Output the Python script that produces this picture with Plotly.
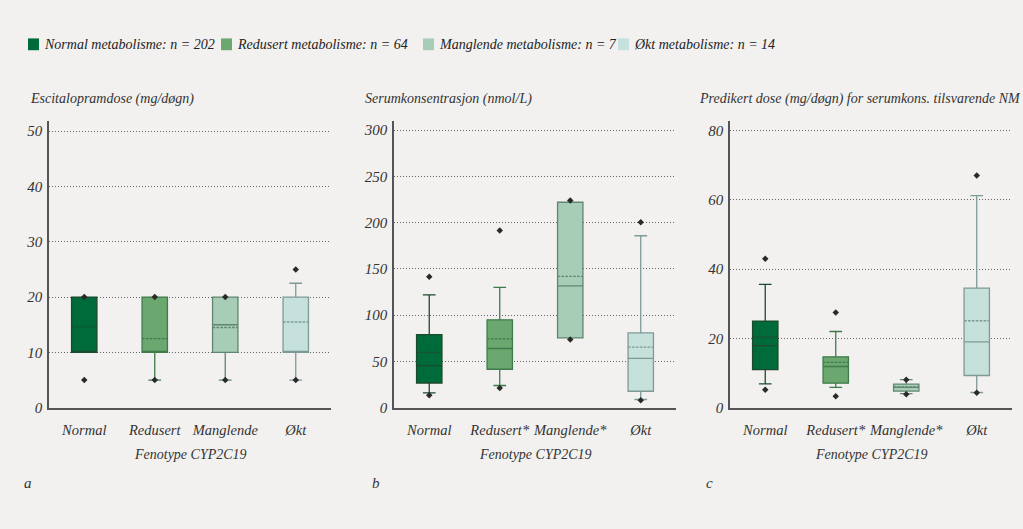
import plotly.graph_objects as go

categories_a = ["Normal", "Redusert", "Manglende", "Økt"]
categories_bc = ["Normal", "Redusert*", "Manglende*", "Økt"]
legend_labels = ["Normal metabolisme: n = 202", "Redusert metabolisme: n = 64",
                 "Manglende metabolisme: n = 7", "Økt metabolisme: n = 14"]

# Panel a: Escitalopramdose (mg/døgn)
a_q1 = [10, 10, 10, 10]
a_med = [10, 10, 15, 10]
a_q3 = [20, 20, 20, 20]
a_mean = [14.6, 12.5, 14.5, 15.5]
a_low = [10, 5, 5, 5]
a_high = [20, 20, 20, 22.5]
a_min = [5, 5, 5, 5]
a_max = [20, 20, 20, 25]

# Panel b: Serumkonsentrasjon (nmol/L)
b_q1 = [26.7, 41.6, 75.4, 17.8]
b_med = [45.5, 64, 131.7, 53.4]
b_q3 = [79, 95, 222, 80.8]
b_mean = [59.8, 74.4, 142, 65.5]
b_low = [16, 24, 75.4, 8.9]
b_high = [122, 130, 222, 185.8]
b_min = [13.5, 21.4, 73.7, 8.2]
b_max = [141.6, 191.5, 223.8, 200.4]

# Panel c: Predikert dose (mg/døgn)
c_q1 = [11.0, 7.1, 4.8, 9.3]
c_med = [17.9, 11.9, 5.9, 19.0]
c_q3 = [25.0, 14.7, 6.8, 34.5]
c_mean = [20.4, 13.1, 6.0, 25.1]
c_low = [6.9, 5.9, 4.1, 4.4]
c_high = [35.6, 22.0, 8.1, 61.2]
c_min = [5.2, 3.3, 3.9, 4.3]
c_max = [43.0, 27.5, 8.1, 67.0]

fills = ["#006b3a", "#6aa86f", "#a8cdb6", "#c6e0dc"]
lines = ["#1c4a2c", "#3f7a4a", "#5f8670", "#7e9a96"]
bg = "#f2f1ef"
font_fam = "Liberation Serif"

panels = [
    dict(cats=categories_a, q1=a_q1, med=a_med, q3=a_q3, mean=a_mean, low=a_low, high=a_high,
         mn=a_min, mx=a_max, xa="x", ya="y", rng=[0, 51.8], dtick=10,
         title="Escitalopramdose (mg/døgn)", dom=[49, 331], tx=28, letter="a", lx=22),
    dict(cats=categories_bc, q1=b_q1, med=b_med, q3=b_q3, mean=b_mean, low=b_low, high=b_high,
         mn=b_min, mx=b_max, xa="x2", ya="y2", rng=[0, 309.6], dtick=50,
         title="Serumkonsentrasjon (nmol/L)", dom=[394, 676], tx=363, letter="b", lx=370),
    dict(cats=categories_bc, q1=c_q1, med=c_med, q3=c_q3, mean=c_mean, low=c_low, high=c_high,
         mn=c_min, mx=c_max, xa="x3", ya="y3", rng=[0, 82.7], dtick=20,
         title="Predikert dose (mg/døgn) for serumkons. tilsvarende NM", dom=[730, 1012], tx=697,
         letter="c", lx=704),
]

W, H = 1023, 529
fig = go.Figure()
annotations = []
shapes = []

for p in panels:
    for i, cat in enumerate(p["cats"]):
        fig.add_trace(go.Box(
            x=[cat], q1=[p["q1"][i]], median=[p["med"][i]], q3=[p["q3"][i]],
            mean=[p["mean"][i]], lowerfence=[p["low"][i]], upperfence=[p["high"][i]],
            boxmean=True, fillcolor=fills[i], line=dict(color=lines[i], width=1.3),
            whiskerwidth=0.5, width=0.36, boxpoints=False,
            xaxis=p["xa"], yaxis=p["ya"], showlegend=False, hoverinfo="skip",
        ))
    fig.add_trace(go.Scatter(
        x=p["cats"] + p["cats"], y=p["mn"] + p["mx"], mode="markers",
        marker=dict(symbol="diamond", size=5, color="#2a2a2a"),
        xaxis=p["xa"], yaxis=p["ya"], showlegend=False, hoverinfo="skip",
    ))
    annotations.append(dict(text=p["title"], x=p["tx"] / W, y=1 - 101 / H, xref="paper", yref="paper",
                            xanchor="left", yanchor="middle", showarrow=False,
                            font=dict(family=font_fam, size=14, color="#333", style="italic")))
    annotations.append(dict(text=p["letter"], x=p["lx"] / W, y=1 - 490 / H, xref="paper", yref="paper",
                            xanchor="left", yanchor="middle", showarrow=False,
                            font=dict(family=font_fam, size=15, color="#333", style="italic")))
    annotations.append(dict(text="Fenotype CYP2C19", x=(p["dom"][0] + p["dom"][1]) / 2 / W,
                            y=1 - 461 / H, xref="paper", yref="paper",
                            xanchor="center", yanchor="middle", showarrow=False,
                            font=dict(family=font_fam, size=14, color="#333", style="italic")))

# legend
leg_sq = [28, 221, 423, 618]
for i, lab in enumerate(legend_labels):
    shapes.append(dict(type="rect", xref="paper", yref="paper",
                       x0=leg_sq[i] / W, x1=(leg_sq[i] + 11) / W, y0=1 - 51 / H, y1=1 - 39 / H,
                       fillcolor=fills[i], line=dict(width=0)))
    annotations.append(dict(text=lab, x=(leg_sq[i] + 14) / W, y=1 - 45 / H, xref="paper", yref="paper",
                            xanchor="left", yanchor="middle", showarrow=False,
                            font=dict(family=font_fam, size=14, color="#222", style="italic")))

y_dom = [1 - 414 / H, 1 - 123 / H]
layout = dict(
    width=W, height=H, paper_bgcolor=bg, plot_bgcolor=bg,
    margin=dict(l=0, r=0, t=0, b=0), boxmode="overlay",
    annotations=annotations, shapes=shapes,
)
for k, p in enumerate(panels):
    sfx = "" if k == 0 else str(k + 1)
    layout["xaxis" + sfx] = dict(
        domain=[p["dom"][0] / W, p["dom"][1] / W], anchor="y" + sfx,
        type="category", categoryorder="array", categoryarray=p["cats"], range=[-0.5, 3.5],
        showline=True, linecolor="#555", linewidth=1.5, showgrid=False, ticks="",
        tickangle=0,
        tickfont=dict(family=font_fam, size=14.5, color="#333", style="italic"),
        ticklabelstandoff=8, zeroline=False,
    )
    layout["yaxis" + sfx] = dict(
        domain=y_dom, anchor="x" + sfx, range=p["rng"], dtick=p["dtick"], tick0=0,
        showline=True, linecolor="#555", linewidth=1.5,
        showgrid=True, gridcolor="#666", griddash="1px,2px", gridwidth=1,
        zeroline=False, ticks="",
        tickfont=dict(family=font_fam, size=15, color="#333", style="italic"),
        ticklabelstandoff=2,
    )
fig.update_layout(**layout)
fig.write_html("out.html", config={"displayModeBar": False},
               post_script="document.body.style.margin='0';document.body.style.background='#f2f1ef';")
